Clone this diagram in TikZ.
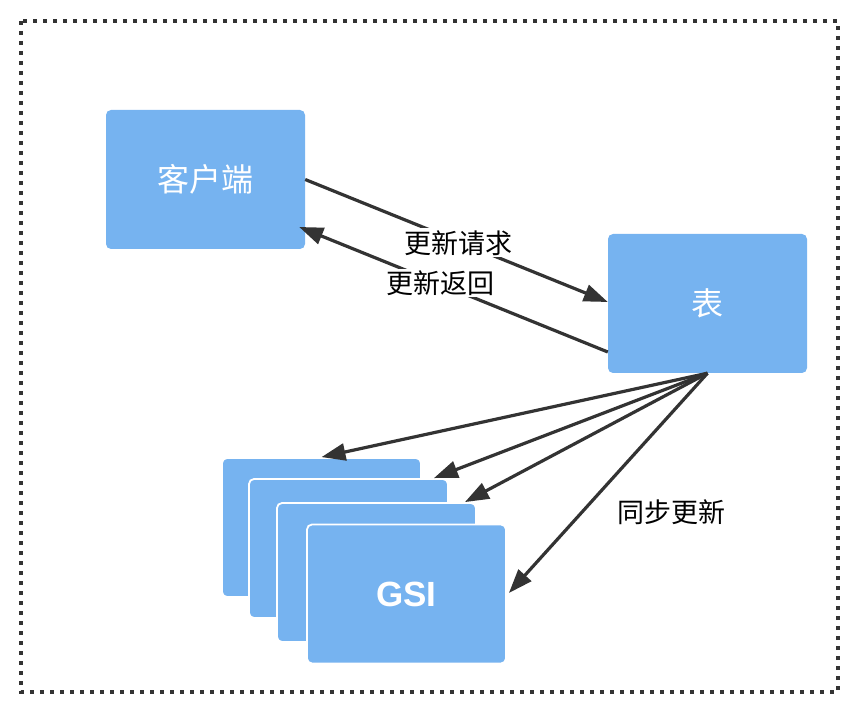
\documentclass[tikz,border=0pt]{standalone}
\usepackage{fontspec}
\newfontfamily\cjk{Noto Sans CJK SC}
\newfontfamily\gsifont{Liberation Sans}
\usetikzlibrary{arrows.meta}
\definecolor{boxblue}{RGB}{118,179,240}
\definecolor{linegray}{RGB}{51,51,51}
\begin{document}
\begin{tikzpicture}[x=1pt,y=-1pt,
  bluebox/.style={rectangle,rounded corners=5pt,fill=boxblue,minimum width=199pt,minimum height=139pt,inner sep=0pt,text=white},
  stackbox/.style={bluebox,draw=white,line width=1.8pt},
  conn/.style={draw=linegray,line width=3.2pt,-{Triangle[length=24pt,width=17pt]}},
  lbl/.style={fill=white,inner sep=2pt,text=black,font=\cjk\fontsize{27}{30}\selectfont}
]
\useasboundingbox (0,0) rectangle (854,708);
\draw[linegray,line width=3.6pt,dash pattern=on 3.6pt off 6.4pt] (21,21) rectangle (838,692);
\node[bluebox,font=\cjk\fontsize{32}{36}\selectfont] (client) at (205.5,179.5) {客户端};
\node[bluebox,font=\cjk\fontsize{32}{36}\selectfont] (table) at (707.5,303.5) {表};
\node[stackbox] (g1) at (321.5,527.5) {};
\node[stackbox] (g2) at (348.5,548.5) {};
\node[stackbox] (g3) at (376.5,572.5) {};
\node[stackbox,font=\gsifont\bfseries\fontsize{35}{39}\selectfont] (g4) at (406.5,594) {GSI};
\draw[conn] (client.east) -- ([yshift=1.5pt]table.west);
\draw[conn] ([yshift=-48.5pt]table.west) -- ([xshift=-6pt,yshift=-47.5pt]client.east);
\draw[conn] (table.south) -- (g1.north);
\draw[conn] (table.south) -- ([xshift=-15pt]g2.north east);
\draw[conn] (table.south) -- ([xshift=-12pt]g3.north east);
\draw[conn] (table.south) -- ([xshift=2pt,yshift=1pt]g4.east);
\node[lbl] (req) at (458,243) {更新请求};
\node[lbl] (ret) at (440,283) {更新返回};
\node[lbl] (sync) at (671,512) {同步更新};
\end{tikzpicture}
\end{document}
